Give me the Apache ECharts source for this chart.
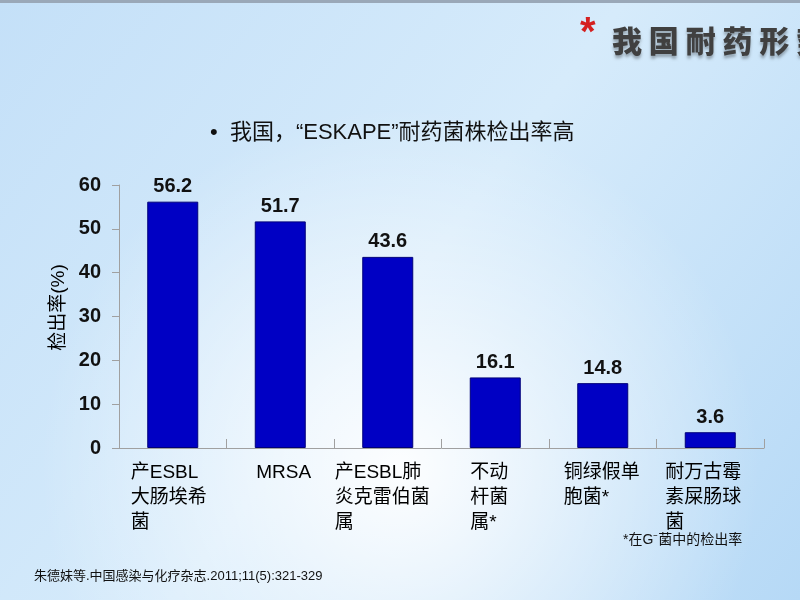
<!DOCTYPE html>
<html>
<head>
    <meta charset="utf-8" />
    <script src="https://cdn.jsdelivr.net/npm/echarts@6/dist/echarts.min.js"></script>
    <style>
        html, body { margin: 0; padding: 0; }
    </style>
</head>
<body>
<div id="main" style="width: 800px;height:600px;"></div>

<script>
    // 数据
    var categories = [
        '产ESBL\n大肠埃希\n菌',
        'MRSA',
        '产ESBL肺\n炎克雷伯菌\n属',
        '不动\n杆菌\n属*',
        '铜绿假单\n胞菌*',
        '耐万古霉\n素屎肠球\n菌'
    ];
    var rates = [56.2, 51.7, 43.6, 16.1, 14.8, 3.6];
    var yTicks = [0, 10, 20, 30, 40, 50, 60];
    // 类别标签相对类别中心的左移量 (px)
    var labelShift = [-42, -24, -53, -25, -39, -45];

    var font = '"Liberation Sans", "Noto Sans CJK SC", sans-serif';

    var chartDom = document.getElementById('main');
    var myChart = echarts.init(chartDom);
    var option;

    option = {
        animation: false,
        backgroundColor: {
            type: 'linear', x: 0, y: 0, x2: 1, y2: 1,
            colorStops: [
                { offset: 0, color: '#c4e0f8' },
                { offset: 0.5, color: '#d6ebfb' },
                { offset: 1, color: '#b6d9f6' }
            ]
        },
        grid: {
            left: 119,
            right: 36,
            top: 185,
            bottom: 152
        },
        xAxis: {
            type: 'category',
            data: categories,
            axisLine: { lineStyle: { color: '#a0a0a0', width: 1 } },
            axisTick: {
                show: true,
                inside: true,
                length: 9,
                interval: 0,
                alignWithLabel: false,
                lineStyle: { color: '#a0a0a0' }
            },
            axisLabel: { show: false }
        },
        yAxis: {
            type: 'value',
            min: yTicks[0],
            max: yTicks[yTicks.length - 1],
            interval: 10,
            name: '检出率(%)',
            nameLocation: 'middle',
            nameGap: 50,
            nameTextStyle: {
                fontSize: 19,
                color: '#000',
                fontFamily: font,
                padding: [0, 0, 0, 18]
            },
            splitLine: { show: false },
            axisLine: { show: true, lineStyle: { color: '#a0a0a0' } },
            axisTick: { show: true, length: 7, lineStyle: { color: '#a0a0a0' } },
            axisLabel: {
                fontSize: 20,
                fontWeight: 'bold',
                color: '#111',
                margin: 18,
                fontFamily: font
            }
        },
        series: [{
            type: 'bar',
            data: rates,
            barWidth: 51,
            itemStyle: {
                color: '#0000c4',
                borderColor: '#00007a',
                borderWidth: 1
            },
            label: {
                show: true,
                position: 'top',
                distance: 5,
                fontSize: 20,
                fontWeight: 'bold',
                color: '#111',
                fontFamily: font
            }
        }]
    };

    myChart.setOption(option);

    // 背景高光 + 文字
    var graphics = [
        {
            type: 'rect',
            z: -10,
            silent: true,
            shape: { x: 0, y: 0, width: 800, height: 600 },
            style: {
                fill: {
                    type: 'radial', x: 0.5, y: 0.78, r: 0.6,
                    colorStops: [
                        { offset: 0, color: 'rgba(255,255,255,0.95)' },
                        { offset: 0.5, color: 'rgba(255,255,255,0.45)' },
                        { offset: 1, color: 'rgba(255,255,255,0)' }
                    ]
                }
            }
        },
        {
            type: 'rect',
            silent: true,
            shape: { x: 0, y: 0, width: 800, height: 3 },
            style: { fill: '#9aa8b8' }
        },
        {
            type: 'text',
            left: 580,
            top: 14,
            style: {
                text: '*',
                fontSize: 40,
                fontWeight: 'bold',
                fill: '#d42020',
                fontFamily: font
            }
        },
        {
            type: 'text',
            left: 612,
            top: 26,
            style: {
                text: '我 国 耐 药 形 势',
                fontSize: 30,
                fontWeight: 900,
                fill: '#404040',
                fontFamily: '"Noto Sans CJK SC", sans-serif',
                textShadowColor: 'rgba(0,0,0,0.3)',
                textShadowBlur: 3,
                textShadowOffsetY: 3
            }
        },
        {
            type: 'text',
            left: 210,
            top: 122,
            style: {
                text: '•  我国，“ESKAPE”耐药菌株检出率高',
                fontSize: 22,
                fill: '#111',
                fontFamily: font
            }
        },
        {
            type: 'text',
            left: 623,
            top: 533,
            style: {
                text: '*在G⁻菌中的检出率',
                fontSize: 14,
                fill: '#111',
                fontFamily: font
            }
        },
        {
            type: 'text',
            left: 34,
            top: 570,
            style: {
                text: '朱德妹等.中国感染与化疗杂志.2011;11(5):321-329',
                fontSize: 13,
                fill: '#111',
                fontFamily: font
            }
        }
    ];

    categories.forEach(function(c, i) {
        var p = myChart.convertToPixel({ xAxisIndex: 0 }, c);
        graphics.push({
            type: 'text',
            x: p + labelShift[i],
            y: 460,
            style: {
                text: c,
                fontSize: 19,
                lineHeight: 25,
                fill: '#000',
                fontFamily: font
            }
        });
    });

    myChart.setOption({ graphic: graphics });
</script>
</body>
</html>
